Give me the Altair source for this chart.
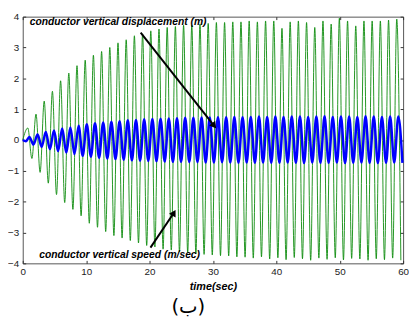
import altair as alt
import pandas as pd

# ---- values ----
PERIOD = 1.2933          # seconds per oscillation (read from peak spacing)
GREEN_START = 0.8        # time of first speed peak
BLUE_START = 1.05        # time of first displacement peak

green_peaks = [0.39, 0.84, 1.26, 1.58, 1.92, 2.17, 2.41, 2.59, 2.75, 2.87,
               3.00, 3.15, 3.25, 3.38, 3.44, 3.54, 3.60, 3.65, 3.68, 3.72,
               3.72, 3.76, 3.78, 3.81, 3.81, 3.83, 3.83, 3.86, 3.83, 3.86,
               3.86, 3.62, 3.83, 3.86, 3.81, 3.65, 3.86, 3.76, 3.95, 3.86,
               3.70, 3.86, 3.86, 3.86, 3.89, 3.92]
green_troughs = [-0.60, -1.05, -1.40, -1.77, -2.03, -2.25, -2.46, -2.70, -2.83, -2.97,
                 -3.10, -3.18, -3.26, -3.34, -3.42, -3.47, -3.54, -3.57, -3.63, -3.65,
                 -3.68, -3.71, -3.73, -3.75, -3.76, -3.79, -3.80, -3.83, -3.79, -3.86,
                 -3.82, -3.88, -3.81, -3.85, -3.90, -3.83, -3.87, -3.82, -3.89, -3.84,
                 -3.86, -3.90, -3.85, -3.88, -3.83, -3.90]
blue_peaks = [0.10, 0.18, 0.26, 0.31, 0.37, 0.41, 0.46, 0.51, 0.54, 0.57,
              0.59, 0.61, 0.64, 0.65, 0.67, 0.68, 0.69, 0.70, 0.71, 0.72,
              0.72, 0.73, 0.73, 0.74, 0.74, 0.75, 0.74, 0.75, 0.76, 0.75,
              0.76, 0.75, 0.76, 0.76, 0.75, 0.76, 0.77, 0.75, 0.76, 0.76,
              0.75, 0.77, 0.76, 0.75, 0.76, 0.76]
blue_troughs = [-0.15, -0.22, -0.30, -0.36, -0.41, -0.46, -0.51, -0.54, -0.58, -0.60,
                -0.62, -0.64, -0.66, -0.67, -0.68, -0.69, -0.70, -0.71, -0.71, -0.72,
                -0.72, -0.73, -0.73, -0.72, -0.73, -0.74, -0.73, -0.74, -0.73, -0.74,
                -0.74, -0.73, -0.74, -0.75, -0.73, -0.74, -0.74, -0.73, -0.75, -0.74,
                -0.73, -0.74, -0.75, -0.74, -0.73, -0.74]
green_lead = [(0.0, 0.0)]
blue_lead = [(0.0, 0.0), (0.5, -0.04)]

x_ticks = [0, 10, 20, 30, 40, 50, 60]
y_ticks = [-4, -3, -2, -1, 0, 1, 2, 3, 4]

label_texts = ["conductor vertical displacement (m)", "conductor vertical speed (m/sec)"]
label_t = [1.1, 2.6]
label_v = [3.81, -3.74]

arrow_t = [18.6, 20.15]
arrow_v = [3.48, -3.49]
arrow_t2 = [30.2, 23.85]
arrow_v2 = [0.46, -2.36]
arrow_angle = [142, 30]


def series(start, peaks, troughs, lead):
    rows = list(lead)
    for k, (p, q) in enumerate(zip(peaks, troughs)):
        rows.append((start + k * PERIOD, p))
        rows.append((start + (k + 0.5) * PERIOD, q))
    return pd.DataFrame(rows, columns=["t", "v"])


green_df = series(GREEN_START, green_peaks, green_troughs, green_lead)
blue_df = series(BLUE_START, blue_peaks, blue_troughs, blue_lead)
text_df = pd.DataFrame({"t": label_t, "v": label_v, "txt": label_texts})
arrow_df = pd.DataFrame({"t": arrow_t, "v": arrow_v, "t2": arrow_t2, "v2": arrow_v2,
                         "ang": arrow_angle})

FONT = "Liberation Sans"
xs = alt.Scale(domain=[0, 60], nice=False, zero=False)
ys = alt.Scale(domain=[-4, 4], nice=False, zero=False)

common = dict(grid=False, domain=False)
ax_x_main = alt.Axis(values=x_ticks, ticks=False, labelFlush=False, labelFontSize=10,
                     labelFont=FONT, labelColor="#222", labelPadding=3,
                     title="time(sec)", titleFont=FONT, titleFontSize=11,
                     titleFontStyle="italic", titleFontWeight="bold", titleColor="black",
                     titlePadding=5, **common)
ax_y_main = alt.Axis(values=y_ticks, ticks=False, labelFlush=False, labelFontSize=10,
                     labelFont=FONT, labelColor="#222", labelPadding=4, title=None, **common)


def tick_axis(orient, vals):
    return alt.Axis(orient=orient, values=vals, labels=False, ticks=True, tickSize=3,
                    offset=-3, tickColor="#333", title=None, **common)


green = alt.Chart(green_df).mark_line(color="#0a8a0a", strokeWidth=0.9,
                                      interpolate="monotone").encode(
    x=alt.X("t:Q", scale=xs, axis=ax_x_main),
    y=alt.Y("v:Q", scale=ys, axis=ax_y_main),
)

blue = alt.Chart(blue_df).mark_line(color="#0000ff", strokeWidth=2.5,
                                    interpolate="monotone").encode(
    x=alt.X("t:Q", scale=xs, axis=tick_axis("top", x_ticks)),
    y=alt.Y("v:Q", scale=ys, axis=tick_axis("right", y_ticks)),
)

arrows = alt.Chart(arrow_df).mark_rule(color="black", strokeWidth=2).encode(
    x=alt.X("t:Q", scale=xs, axis=tick_axis("bottom", x_ticks)),
    y=alt.Y("v:Q", scale=ys, axis=tick_axis("left", y_ticks)),
    x2="t2:Q", y2="v2:Q",
)

heads = alt.Chart(arrow_df).mark_point(shape="triangle-up", filled=True,
                                       color="black", opacity=1, size=60,
                                       strokeWidth=0).encode(
    x=alt.X("t2:Q", scale=xs, axis=None),
    y=alt.Y("v2:Q", scale=ys, axis=None),
    angle=alt.Angle("ang:Q", scale=None),
)

texts = alt.Chart(text_df).mark_text(align="left", baseline="middle", font=FONT,
                                     fontSize=10.5, fontStyle="italic", fontWeight="bold",
                                     color="black").encode(
    x=alt.X("t:Q", scale=xs, axis=None),
    y=alt.Y("v:Q", scale=ys, axis=None),
    text="txt:N",
)

chart = alt.layer(green, blue, arrows, heads, texts).resolve_axis(
    x="independent", y="independent"
).properties(
    width=387, height=251,
    autosize=alt.AutoSizeParams(type="none"),
    padding={"left": 15, "top": 6, "right": 6, "bottom": 64},
    title=alt.TitleParams("(ب)", orient="bottom", anchor="middle", fontSize=20,
                          font="DejaVu Sans", fontWeight="normal", color="black",
                          offset=6, dx=-25),
).configure_view(stroke="#555", strokeWidth=1)

chart.save("out.html", embed_options={"renderer": "svg", "actions": False})
